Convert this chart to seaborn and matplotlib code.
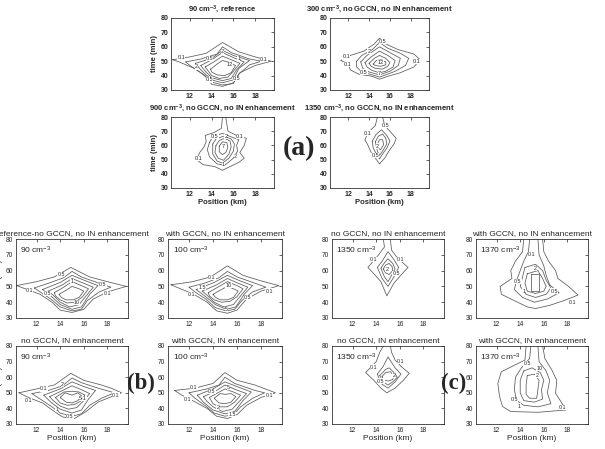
import numpy as np
import pandas as pd
import matplotlib.pyplot as plt
import seaborn as sns

# contour lines, vertices as (position km, time min)
# lines that start and end at 80 min run out through the top of the panel
a1_lines = {
    0.1: [(10.4, 51), (12, 53), (13.5, 55.5), (15, 63), (16.5, 56.5), (18, 53), (19.5, 50), (18, 47), (16.6, 42), (16, 35), (15, 32.5), (14, 34), (13.4, 40), (12.4, 45), (11, 49.5)],
    0.5: [(11.6, 49.5), (13, 51.5), (14.5, 55), (15, 60), (15.8, 56), (17.5, 51.5), (18.6, 50), (17.5, 47.5), (16.5, 41), (16, 34.5), (15, 33.5), (14, 35.5), (13, 42), (12, 47)],
    1: [(12.5, 48.5), (14, 52), (15, 57.5), (16, 54), (17.5, 50.5), (16.5, 45), (16, 37), (15, 35), (14, 37), (13, 44)],
    2: [(13, 47), (14, 51), (15, 56), (16, 52.5), (17, 49.5), (16.3, 44), (15.8, 38), (15, 36.5), (14, 38.5), (13.3, 44)],
    5: [(13.4, 46), (14.2, 49.5), (15, 53.5), (15.8, 51), (16.6, 48.5), (16, 43), (15.5, 39), (14.7, 38), (14, 40), (13.6, 44)],
    10: [(13.9, 44.5), (14.5, 48), (15, 50.5), (15.7, 49), (16.2, 47), (15.8, 42), (15.2, 40), (14.5, 40.5), (14, 42.5)],
}
a1_labels = [("0.1", 11.2, 52.5), ("0.1", 18.8, 51.3), ("0.5", 13.8, 52), ("2", 15, 56.5), ("1", 16.5, 52),
             ("12", 15.7, 47.5), ("2", 12.6, 46), ("0.5", 13.8, 37), ("0.5", 16.3, 38)]

a2_lines = {
    0.1: [(11.3, 50.5), (12.2, 54), (13.5, 57), (14.5, 62), (15, 66), (15.6, 62), (16.8, 58), (18.3, 55), (18.9, 51), (18.3, 46), (17, 42), (15.8, 39.5), (15, 37.5), (14.3, 39.5), (13, 41), (12.2, 44), (12, 48)],
    0.5: [(12.8, 50), (13.3, 54), (14.3, 58), (15, 63), (15.8, 59), (17, 55.5), (17.8, 52), (17.5, 47), (16.5, 43), (15.6, 40.5), (15, 39), (14.3, 40.5), (13.3, 42.5), (12.8, 46)],
    1: [(13.2, 49.5), (13.8, 54), (15, 60), (16, 56), (17, 52), (16.8, 47), (16, 43), (15, 40.5), (14, 42.5), (13.4, 45)],
    2: [(13.6, 49), (14.2, 53), (15, 57), (15.8, 54), (16.5, 50.5), (16.3, 46), (15.6, 43), (15, 42), (14.3, 43.5), (13.8, 46)],
    5: [(14, 48.5), (14.5, 52), (15, 54), (15.6, 52), (16, 49), (15.8, 46.5), (15.3, 44.5), (14.6, 45), (14.2, 46.5)],
    10: [(14.4, 48), (14.7, 50.5), (15.2, 51), (15.6, 49.5), (15.6, 47.5), (15.1, 46.5), (14.6, 47)],
}
a2_labels = [("0.1", 11.8, 53), ("0.1", 11.9, 47.5), ("0.5", 15.3, 63.5), ("2", 14, 57), ("0.1", 18.6, 50),
             ("12", 15.1, 49), ("0.5", 13.5, 42.5), ("7", 15, 41.5)]

a3_lines = {
    0.1: [(15.0, 80), (14.9, 72), (14.2, 69), (13.4, 67), (13.5, 63), (13.3, 59), (12.9, 55), (12.6, 50), (13.2, 46.5), (14.3, 45), (15.0, 42.5), (15.8, 45.5), (16.5, 48), (17, 51), (16.6, 55), (17.0, 60), (17.2, 65), (16.3, 67), (15.5, 70), (15.3, 80)],
    0.5: [(13.8, 62), (14.1, 66), (15, 68.5), (15.8, 66), (16.5, 64), (16.3, 60), (16.4, 56), (16, 51), (15.2, 46), (14.5, 47), (13.8, 52), (13.6, 57)],
    1: [(14.1, 61), (14.4, 64.5), (15.1, 66.5), (15.8, 64.5), (16.1, 61), (16, 56), (15.6, 51), (15.0, 47.5), (14.5, 49), (14.1, 54)],
    2: [(14.4, 60), (14.7, 63.5), (15.2, 65), (15.7, 63), (15.8, 59), (15.6, 54), (15.1, 49.5), (14.6, 51), (14.3, 55)],
    5: [(14.7, 59.5), (15.0, 62.5), (15.4, 62), (15.5, 58.5), (15.3, 55), (15.0, 53.5), (14.7, 55.5)],
}
a3_labels = [("0.5", 14.3, 66.5), ("2", 15.3, 66.5), ("0.1", 16.6, 66.5), ("7", 15.1, 59), ("0.1", 12.8, 51),
             ("2", 16.2, 52), ("1", 15.1, 46.5)]

a4_lines = {
    0.1: [(14.8, 80), (14.6, 74), (13.9, 69), (13.6, 64), (13.9, 60), (14.2, 55), (14.6, 51), (15.0, 47), (15.5, 51), (15.9, 56), (16.4, 61), (16.6, 65), (16.0, 70), (15.5, 74), (15.3, 80)],
    0.5: [(14.3, 63), (14.7, 68), (15.2, 71), (15.7, 67), (16.0, 63), (15.7, 58), (15.3, 54), (15.0, 50.5), (14.7, 54), (14.4, 58)],
    1: [(14.6, 62.5), (14.9, 66.5), (15.3, 68), (15.6, 65), (15.7, 61), (15.3, 56), (15.0, 53), (14.8, 56)],
    2: [(14.8, 61), (15.0, 64), (15.3, 64), (15.4, 60.5), (15.1, 57), (14.9, 58)],
}
a4_labels = [("0.1", 13.9, 68.7), ("0.5", 15.6, 74), ("2", 14.8, 59.5), ("0.5", 14.6, 53)]

b1_lines = {
    0.1: [(10.3, 50.5), (12, 53), (13.5, 56), (14.9, 62), (16.5, 56), (18, 53), (19.6, 50), (18, 46.5), (16.8, 42), (16, 35.5), (15, 33.5), (14, 35), (13.3, 40), (12.3, 45)],
    0.5: [(11.8, 49), (13, 52), (14.3, 55.5), (15, 59.5), (15.8, 56), (17.3, 52), (18.3, 49.5), (17.3, 46.5), (16.3, 41), (15.8, 35.5), (15, 34.5), (14, 37), (13.2, 42), (12.3, 46.5)],
    1: [(12.5, 48), (14, 52.5), (15, 57), (16, 54), (17.2, 50.5), (16.5, 45), (15.8, 37), (15, 35.5), (14, 38.5), (13.2, 44)],
    2: [(13, 47), (14.2, 51), (15, 55), (16, 52), (16.8, 49.5), (16.2, 44), (15.6, 38.5), (14.8, 37), (14, 40), (13.4, 44.5)],
    5: [(13.5, 46), (14.3, 49.5), (15, 53), (15.8, 50.5), (16.4, 48.5), (15.9, 43.5), (15.3, 40), (14.6, 39.5), (14, 41.5), (13.6, 44)],
    10: [(13.9, 45), (14.6, 48), (15, 50), (15.6, 48.5), (16, 47), (15.6, 43), (15.1, 41.5), (14.5, 41.5), (14.1, 43)],
}
b1_labels = [("0.1", 11.4, 47.5), ("0.5", 14.1, 57.5), ("0.5", 17.6, 51), ("0.1", 18, 45.5), ("10", 15.4, 40),
             ("0.5", 12.9, 45.5), ("1", 15, 53)]

b2_lines = {
    0.1: [(10.5, 51), (12.3, 53), (13.8, 56), (15.2, 63), (16.5, 57), (18, 53.5), (19.5, 50.5), (18, 47), (16.8, 42), (16, 35), (15.2, 33), (14.3, 34.5), (13.5, 40), (12.4, 45)],
    0.5: [(12, 49.5), (13.3, 52), (14.5, 55.5), (15.2, 59.5), (16, 56), (17.5, 52), (18.4, 49.5), (17.3, 46.5), (16.4, 41), (15.8, 35.5), (15.1, 34.5), (14.2, 36.5), (13.4, 42), (12.5, 46.5)],
    1: [(12.6, 48), (14.1, 52.5), (15.2, 57), (16.1, 54), (17.3, 50.5), (16.6, 45), (15.9, 37), (15.1, 35.5), (14.2, 38.5), (13.3, 44)],
    2: [(13.1, 47), (14.3, 51), (15.2, 55), (16.1, 52), (16.9, 49.5), (16.3, 44), (15.7, 38.5), (14.9, 37), (14.1, 40), (13.5, 44.5)],
    5: [(13.6, 46), (14.4, 49.5), (15.2, 53), (16, 50.5), (16.5, 48.5), (16, 43.5), (15.4, 40.5), (14.7, 40), (14.1, 41.5), (13.7, 44)],
    10: [(14, 45), (14.7, 48), (15.2, 50), (15.7, 48.5), (16.1, 47), (15.7, 43), (15.2, 41.5), (14.6, 41.5), (14.2, 43)],
}
b2_labels = [("0.1", 13.9, 55.5), ("1.5", 13.1, 49.5), ("10", 15.3, 50.5), ("0.1", 12.2, 45), ("0.1", 18.7, 47),
             ("0.5", 16.9, 43), ("5", 15.1, 35.5)]

b3_lines = {
    0.1: [(10.5, 50), (12, 52.5), (13.5, 55), (14.9, 62.5), (16, 58), (17.5, 55), (18.3, 53), (19.2, 50), (18.5, 48), (17.2, 44), (16.2, 38), (15.2, 33.5), (14.2, 34.5), (13.5, 38), (12.5, 43.5), (11.3, 47)],
    0.5: [(11.6, 49.5), (13, 51.5), (14.2, 54.5), (15, 59.5), (15.8, 56.5), (17.2, 53), (18.6, 50), (17.5, 46.5), (16.5, 42), (15.8, 36.5), (15, 35), (14, 37), (13.3, 41), (12.3, 46)],
    1: [(12.6, 48.5), (14, 52.5), (15, 57), (16, 54), (17, 51.5), (16.4, 46), (15.8, 39), (15, 37), (14, 39.5), (13.2, 44)],
    2: [(13.1, 47.5), (14.2, 51.5), (15, 54.5), (15.8, 52), (16.5, 49.5), (16, 45), (15.4, 40.5), (14.7, 39.5), (14, 41.5), (13.4, 45)],
    5: [(13.6, 47), (14.3, 50.5), (15, 51), (15.6, 50.5), (16.1, 48.5), (15.7, 44.5), (15.2, 42.5), (14.6, 42), (14, 43.5)],
    10: [(14, 47), (14.4, 50), (15, 48.5), (15.5, 50), (15.8, 48), (15.5, 45), (15, 43.5), (14.5, 44)],
}
b3_labels = [("0.1", 12.6, 52.5), ("0.1", 11.3, 45), ("0.1", 18.7, 48.5), ("0.5", 14.8, 34.5), ("2", 14.2, 55.5),
             ("5-1", 15.9, 46.5), ("1", 13.7, 39.5)]

b4_lines = {
    0.1: [(10.8, 51.5), (12.5, 53), (14, 56), (15, 63), (16, 58), (17.5, 55), (19.2, 50), (18, 47), (16.8, 42), (16, 36), (15.2, 33.5), (14.3, 35), (13.5, 40), (12.3, 45), (11.4, 48.5)],
    0.5: [(12, 50), (13.5, 52.5), (14.5, 55), (15, 60), (15.8, 56), (17.5, 51.5), (18.3, 50), (17.3, 46.5), (16.3, 41), (15.7, 36), (15, 35), (14.1, 37), (13.4, 41.5), (12.5, 46.5)],
    1: [(12.7, 48.5), (14, 52.5), (15, 57), (16, 54), (17.2, 50.5), (16.5, 45), (15.8, 38), (15, 36.5), (14, 39), (13.2, 44)],
    2: [(13.2, 47.5), (14.2, 51), (15, 55), (15.9, 52), (16.8, 49.5), (16.2, 44.5), (15.6, 39.5), (14.8, 38), (14, 41), (13.5, 44.5)],
    5: [(13.7, 47), (14.4, 50), (15, 52.5), (15.7, 50.5), (16.3, 48.5), (15.8, 44), (15.2, 41), (14.5, 41), (14, 43)],
    10: [(14.1, 46.5), (14.6, 49.5), (15, 49), (15.5, 49.5), (15.9, 47.5), (15.5, 44), (15, 43), (14.5, 43.5)],
}
b4_labels = [("0.1", 12.4, 53.5), ("0.5", 13.9, 51), ("5", 15.3, 53.5), ("0.1", 11.9, 46), ("0.1", 18.7, 48.5),
             ("2", 14.4, 40.5), ("1.5", 15.6, 36)]

c1_lines = {
    0.1: [(14.6, 80), (14.7, 75), (14.2, 70), (13.3, 62), (13.8, 58), (14.4, 53), (14.9, 44), (15.5, 52), (16.2, 58), (16.7, 62), (15.8, 68), (15.3, 73), (15.2, 80)],
    0.5: [(14.1, 62), (14.5, 66), (15, 72), (15.5, 67), (15.9, 62), (15.5, 56), (15, 50), (14.5, 55)],
    1: [(14.4, 61.5), (14.7, 65), (15, 67.5), (15.4, 64.5), (15.6, 61), (15.3, 57), (15, 53), (14.7, 56)],
    2: [(14.6, 61), (14.8, 63.5), (15.1, 64.5), (15.35, 62.5), (15.4, 60), (15.1, 57.5), (14.8, 58.5)],
}
c1_labels = [("0.1", 13.8, 67), ("0.1", 16.1, 67), ("2", 14.9, 61), ("0.5", 15.7, 58)]

c2_lines = {
    0.1: [(14.3, 80), (14.2, 72), (13.6, 66), (13.2, 60), (13.3, 55), (12.3, 50), (12.4, 45), (13.5, 41), (14.6, 37), (15.3, 36), (16.5, 38), (17.7, 41), (18.9, 44.5), (18.1, 50), (17.2, 55), (17.0, 60), (16.4, 66), (16.0, 72), (15.9, 80)],
    0.5: [(14.8, 80), (14.7, 72), (14.3, 66), (14.0, 60), (13.7, 54), (13.5, 48), (14.2, 43), (15.2, 40), (16.3, 42), (17.3, 46), (16.5, 51), (16.2, 57), (16.0, 63), (15.6, 70), (15.5, 80)],
    1: [(14.4, 62), (14.2, 56), (14.0, 50), (14.5, 45), (15.3, 43), (16.2, 45), (16.6, 49), (16.2, 54), (15.9, 60), (15.3, 64)],
    2: [(14.6, 58), (14.4, 52), (14.6, 47), (15.3, 45.5), (16.0, 47), (16.2, 50), (15.9, 55), (15.5, 60)],
    5: [(14.9, 58), (14.9, 47), (15.6, 47), (15.6, 58)],
}
c2_labels = [("0.1", 15.0, 70), ("0.5", 13.8, 53), ("2", 15.3, 61.5), ("0.5", 16.9, 47), ("0.1", 18.4, 39.5), ("1", 14.3, 47)]

c3_lines = {
    0.1: [(14.6, 80), (14.3, 76), (14.0, 70), (13.1, 63), (13.8, 58), (14.4, 53), (14.9, 50), (15.6, 53), (16.3, 58), (16.8, 62.5), (16.1, 67), (15.6, 71), (15.3, 76), (15.2, 80)],
    0.5: [(14.1, 62), (14.6, 67), (15, 73), (15.6, 66), (16.1, 62), (15.6, 57), (15, 53), (14.4, 56)],
    1: [(14.3, 61), (14.8, 65), (15.1, 66), (15.5, 63), (15.8, 60), (15.4, 57), (15, 55), (14.6, 57)],
    2: [(14.5, 60.5), (14.8, 63), (15.2, 63.5), (15.5, 61), (15.4, 58.5), (15, 57.5), (14.6, 58.5)],
}
c3_labels = [("0.1", 13.8, 66.5), ("0.1", 16.1, 70), ("0.5", 14.4, 57.5), ("2", 15.5, 61)]

c4_lines = {
    0.1: [(14.5, 80), (14.4, 71), (12.4, 63.5), (12.1, 56), (12.25, 47.6), (12.5, 41.2), (13.2, 38), (15.5, 37.5), (17.9, 39), (17.0, 49.7), (17.1, 58), (16.7, 64.4), (16.1, 71.8), (15.9, 80)],
    0.5: [(14.9, 80), (14.8, 72), (14.1, 66), (13.6, 60), (13.5, 52), (13.7, 45), (14.3, 42), (15.5, 41), (16.6, 43), (16.3, 50), (16.5, 58), (16.2, 64), (15.6, 70), (15.5, 80)],
    1: [(14.3, 64), (14.0, 58), (14.0, 50), (14.3, 45), (15.2, 44), (15.9, 46), (15.8, 52), (16.0, 58), (15.7, 63), (15.0, 66)],
    2: [(14.6, 61), (14.5, 55), (14.5, 49), (14.8, 46.5), (15.4, 46.5), (15.5, 52), (15.6, 58), (15.2, 62)],
}
c4_labels = [("0.5", 14.6, 68.5), ("10", 15.6, 65.5), ("2", 15.4, 61), ("0.5", 13.5, 45.5), ("1", 13.9, 41.5), ("0.1", 17.6, 40.5)]

top_titles = ["90 cm$^{-3}$, reference", "300 cm$^{-3}$, no GCCN, no IN enhancement",
              "900 cm$^{-3}$, no GCCN, no IN enhancement", "1350 cm$^{-3}$, no GCCN, no IN enhancement"]
bottom_titles = ["reference-no GCCN, no IN enhancement", "with GCCN, no IN enhancement",
                 "no GCCN, no IN enhancement", "with GCCN, no IN enhancement",
                 "no GCCN, IN enhancement", "with GCCN, IN enhancement",
                 "no GCCN, IN enhancement", "with GCCN, IN enhancement"]
bottom_conc = ["90 cm$^{-3}$", "100 cm$^{-3}$", "1350 cm$^{-3}$", "1370 cm$^{-3}$",
               "90 cm$^{-3}$", "100 cm$^{-3}$", "1350 cm$^{-3}$", "1370 cm$^{-3}$"]
x_ticks = [12, 14, 16, 18]
y_ticks = [30, 40, 50, 60, 70, 80]

sns.set_style("white")
plt.rcParams["font.family"] = ["Liberation Sans", "DejaVu Sans"]
plt.rcParams["mathtext.default"] = "regular"

W, H = 605, 449
fig = plt.figure(figsize=(W / 100, H / 100), dpi=100)


def box(x0, x1, y0, y1):
    # pixel box -> figure fraction
    return [x0 / W, 1 - y1 / H, (x1 - x0) / W, (y1 - y0) / H]


def draw(ax, lines, labels, fs_lab=4):
    for level, pts in lines.items():
        df = pd.DataFrame(pts, columns=["pos", "time"])
        if df["time"].iloc[0] < 80:
            df = pd.concat([df, df.iloc[:1]], ignore_index=True)
        sns.lineplot(data=df, x="pos", y="time", sort=False, estimator=None,
                     color="0.35", linewidth=0.55, ax=ax)
    for txt, x, y in labels:
        ax.text(x, y, txt, fontsize=fs_lab, ha="center", va="center", zorder=5,
                bbox=dict(facecolor="white", edgecolor="none", pad=0.1))
    ax.set_xlim(10.25, 19.75)
    ax.set_ylim(30, 80)
    ax.set_xticks(x_ticks)
    ax.set_yticks(y_ticks)
    ax.set_xlabel("")
    ax.set_ylabel("")
    ax.tick_params(direction="in", length=2, width=0.5, top=True, right=True, pad=2)
    for s in ax.spines.values():
        s.set_linewidth(0.6)
        s.set_color("0.2")


# (a) block
top_boxes = [box(171, 274, 18, 90), box(330, 429, 18, 90), box(171, 274, 117, 188), box(330, 429, 117, 188)]
top_data = [(a1_lines, a1_labels), (a2_lines, a2_labels), (a3_lines, a3_labels), (a4_lines, a4_labels)]
for i, (rect, (ln, lb)) in enumerate(zip(top_boxes, top_data)):
    ax = fig.add_axes(rect)
    draw(ax, ln, lb)
    ax.set_title(top_titles[i], fontsize=5.5, fontweight="bold", pad=4.5)
    for t in ax.get_xticklabels() + ax.get_yticklabels():
        t.set_fontsize(5)
        t.set_fontweight("bold")
    if i % 2 == 0:
        ax.set_ylabel("time (min)", fontsize=5.5, fontweight="bold", labelpad=2)
    if i >= 2:
        ax.set_xlabel("Position (km)", fontsize=5.5, fontweight="bold", labelpad=1)

# (b) and (c) blocks
cols = [(16, 128), (168, 282), (332, 444), (476, 588)]
rows = [(239, 318), (346, 424)]
bottom_data = [(b1_lines, b1_labels), (b2_lines, b2_labels), (c1_lines, c1_labels), (c2_lines, c2_labels),
               (b3_lines, b3_labels), (b4_lines, b4_labels), (c3_lines, c3_labels), (c4_lines, c4_labels)]
for k, (ln, lb) in enumerate(bottom_data):
    r, c = divmod(k, 4)
    ax = fig.add_axes(box(cols[c][0], cols[c][1], rows[r][0], rows[r][1]))
    draw(ax, ln, lb, fs_lab=3.8)
    ax.set_title(bottom_titles[k], fontsize=6, pad=3)
    ax.text(0.04, 0.93, bottom_conc[k], transform=ax.transAxes, fontsize=6, va="top", ha="left")
    for t in ax.get_xticklabels() + ax.get_yticklabels():
        t.set_fontsize(4.8)
    if c == 0:
        ax.set_ylabel("time (min)", fontsize=6, labelpad=2)
    if r == 1:
        ax.set_xlabel("Position (km)", fontsize=6, labelpad=1)

lab_font = dict(fontweight="bold", family="Liberation Serif", ha="center", va="center")
fig.text(299 / W, 1 - 149 / H, "(a)", fontsize=20, **lab_font)
fig.text(141 / W, 1 - 383 / H, "(b)", fontsize=16.5, **lab_font)
fig.text(454 / W, 1 - 383 / H, "(c)", fontsize=16.5, **lab_font)

fig.savefig("out.png", dpi=100)
